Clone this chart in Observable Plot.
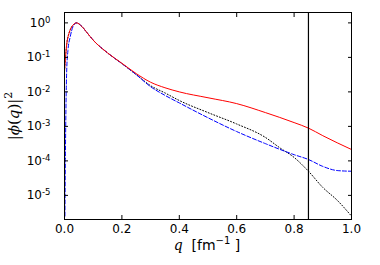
<!DOCTYPE html>
<html><head><meta charset="utf-8">
<script src="https://cdn.jsdelivr.net/npm/d3@7"></script>
<script src="https://cdn.jsdelivr.net/npm/@observablehq/plot@0.6"></script>
<style>body{margin:0;background:#fff;} svg{font-family:"DejaVu Sans",sans-serif;}</style>
</head><body><div id="chart"></div>
<script>
// log10 values
const qRed   = [0, 0.004, 0.008, 0.014, 0.02, 0.03, 0.042, 0.06, 0.08, 0.1, 0.15, 0.2, 0.25, 0.3, 0.35, 0.4, 0.5, 0.6, 0.7, 0.8, 0.85, 0.9, 1.0];
const lgRed  = [-1.4, -0.95, -0.6, -0.35, -0.2, -0.06, 0, -0.1, -0.3, -0.5, -0.87, -1.17, -1.47, -1.72, -1.88, -2.0, -2.17, -2.34, -2.6, -2.89, -3.05, -3.27, -3.67];
const qBlue  = [0.0015, 0.003, 0.005, 0.008, 0.012, 0.02, 0.03, 0.042, 0.06, 0.08, 0.1, 0.15, 0.2, 0.25, 0.3, 0.35, 0.4, 0.5, 0.6, 0.7, 0.8, 0.85, 0.9, 0.95, 1.0];
const lgBlue = [-5.6, -4.0, -2.5, -1.3, -0.8, -0.4, -0.1, 0, -0.1, -0.3, -0.5, -0.87, -1.18, -1.5, -1.85, -2.1, -2.32, -2.75, -3.15, -3.5, -3.82, -3.96, -4.16, -4.28, -4.3];
const qBlack  = [0, 0.004, 0.008, 0.014, 0.02, 0.03, 0.042, 0.06, 0.08, 0.1, 0.15, 0.2, 0.25, 0.3, 0.35, 0.4, 0.5, 0.6, 0.7, 0.75, 0.8, 0.85, 0.9, 0.95, 1.0];
const lgBlack = [-1.4, -0.95, -0.6, -0.35, -0.2, -0.06, 0, -0.1, -0.3, -0.5, -0.87, -1.18, -1.5, -1.82, -2.03, -2.25, -2.6, -2.93, -3.32, -3.62, -3.9, -4.3, -4.77, -5.14, -5.6];
const xTicks = [0, 0.2, 0.4, 0.6, 0.8, 1.0];
const xTickLabels = ["0.0", "0.2", "0.4", "0.6", "0.8", "1.0"];
const yTicks = [1, 1e-1, 1e-2, 1e-3, 1e-4, 1e-5];
const yTickExponents = ["0", "-1", "-2", "-3", "-4", "-5"];
const cutoff = [0.85];

const mk = (qs, lg) => qs.map((q, i) => ({q, v: Math.pow(10, lg[i])}));
const red = mk(qRed, lgRed), blue = mk(qBlue, lgBlue), black = mk(qBlack, lgBlack);
const yIdx = d => yTicks.findIndex(t => Math.abs(Math.log10(t) - Math.log10(d)) < 1e-6);
const xLabelOf = d => xTickLabels[xTicks.findIndex(t => Math.abs(t - d) < 1e-9)];

const chart = Plot.plot({
  width: 380, height: 265,
  marginLeft: 64, marginRight: 29, marginTop: 12, marginBottom: 46,
  style: {fontFamily: "DejaVu Sans, sans-serif", fontSize: "11px", background: "#fff", color: "#000"},
  x: {domain: [0, 1]},
  y: {type: "log", domain: [2e-6, 2]},
  marks: [
    Plot.line(black, {x: "q", y: "v", stroke: "#000", strokeWidth: 1, strokeDasharray: "1,2", curve: "monotone-x", clip: true}),
    Plot.line(blue, {x: "q", y: "v", stroke: "#0000ff", strokeWidth: 1, strokeDasharray: "4,2", curve: "monotone-x", clip: true}),
    Plot.line(red, {x: "q", y: "v", stroke: "#ff0000", strokeWidth: 1, curve: "monotone-x", clip: true}),
    Plot.ruleX(cutoff, {stroke: "#000", strokeWidth: 1.2}),
    Plot.axisX(xTicks, {anchor: "bottom", tickSize: 0, tickPadding: 5, tickFormat: xLabelOf, label: null, fontSize: 12}),
    Plot.axisX(xTicks, {anchor: "bottom", tickSize: -4, text: null, label: null}),
    Plot.axisX(xTicks, {anchor: "top", tickSize: -4, text: null, label: null}),
    Plot.axisY(yTicks, {anchor: "left", tickSize: 0, tickPadding: 14, tickFormat: d => "10^" + yTickExponents[yIdx(d)], label: null, fontSize: 12}),
    Plot.axisY(yTicks, {anchor: "left", tickSize: -4, text: null, label: null}),
    Plot.axisY(yTicks, {anchor: "right", tickSize: -4, text: null, label: null}),
    Plot.frame({stroke: "#000", strokeWidth: 1})
  ]
});
document.getElementById("chart").appendChild(chart);

const svg = d3.select(chart);
// turn "10^e" into 10 with a raised exponent
svg.selectAll("text").each(function() {
  const t = d3.select(this);
  const s = t.text();
  if (!/^10\^/.test(s)) return;
  const [base, ex] = s.split("^");
  t.selectAll("*").remove();
  t.text(null);
  t.append("tspan").text(base);
  t.append("tspan").attr("dy", "-0.45em").attr("font-size", 8.5).text(ex);
});

const xl = svg.append("text").attr("x", 207).attr("y", 250).attr("text-anchor", "middle")
  .attr("font-size", 14).attr("fill", "#000");
xl.append("tspan").attr("font-style", "italic").attr("font-family", "DejaVu Serif, serif").text("q");
xl.append("tspan").text("  [fm");
xl.append("tspan").attr("dy", -6).attr("font-size", 10).text("−1");
xl.append("tspan").attr("dy", 6).text(" ]");

const yl = svg.append("text").attr("transform", "translate(19,116) rotate(-90)").attr("text-anchor", "middle")
  .attr("font-size", 15).attr("fill", "#000").attr("font-family", "DejaVu Serif, serif");
yl.append("tspan").text("|");
yl.append("tspan").attr("font-style", "italic").text("ϕ");
yl.append("tspan").text("(");
yl.append("tspan").attr("font-style", "italic").text("q");
yl.append("tspan").text(")|");
yl.append("tspan").attr("dy", -7).attr("font-size", 11).text("2");
</script></body></html>
